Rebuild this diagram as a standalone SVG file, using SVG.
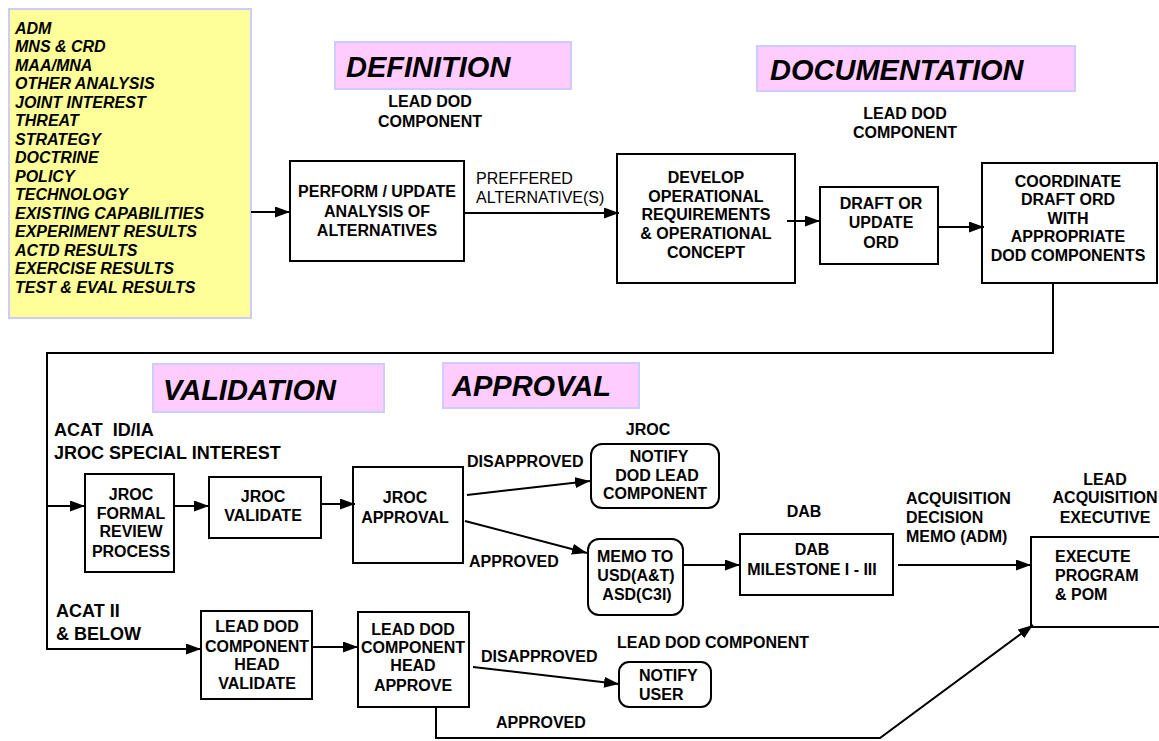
<svg xmlns="http://www.w3.org/2000/svg" width="1159" height="741" viewBox="0 0 1159 741">
<defs>
<marker id="ah" markerUnits="userSpaceOnUse" markerWidth="15" markerHeight="11" refX="15" refY="5.5" orient="auto">
<path d="M0,0 L15,5.5 L0,11 z" fill="#000"/>
</marker>
<style>
.box{fill:#fff;stroke:#000;stroke-width:2}
.phase{fill:#ffccff;stroke:#ccccff;stroke-width:2}
.ph{font-family:"Liberation Sans",Arial,sans-serif;font-weight:bold;font-style:italic;font-size:29px;fill:#000}
.t{font-family:"Liberation Sans",Arial,sans-serif;font-weight:bold;font-size:16px;fill:#000}
.c{text-anchor:middle}
.n{font-weight:normal}
.big{font-size:18px;white-space:pre}
.list{font-family:"Liberation Sans",Arial,sans-serif;font-weight:bold;font-style:italic;font-size:16px;fill:#000}
.ln{fill:none;stroke:#000;stroke-width:2}
.ar{fill:none;stroke:#000;stroke-width:2;marker-end:url(#ah)}
</style>
</defs>
<rect width="1159" height="741" fill="#fff"/>

<g id="inputs">
<rect x="9" y="9" width="242" height="309" fill="#ffff99" stroke="#ccccff" stroke-width="2"/>
<text class="list" x="15" y="34">
<tspan x="15">ADM</tspan>
<tspan x="15" dy="18.48">MNS &amp; CRD</tspan>
<tspan x="15" dy="18.48">MAA/MNA</tspan>
<tspan x="15" dy="18.48">OTHER ANALYSIS</tspan>
<tspan x="15" dy="18.48">JOINT INTEREST</tspan>
<tspan x="15" dy="18.48">THREAT</tspan>
<tspan x="15" dy="18.48">STRATEGY</tspan>
<tspan x="15" dy="18.48">DOCTRINE</tspan>
<tspan x="15" dy="18.48">POLICY</tspan>
<tspan x="15" dy="18.48">TECHNOLOGY</tspan>
<tspan x="15" dy="18.48">EXISTING CAPABILITIES</tspan>
<tspan x="15" dy="18.48">EXPERIMENT RESULTS</tspan>
<tspan x="15" dy="18.48">ACTD RESULTS</tspan>
<tspan x="15" dy="18.48">EXERCISE RESULTS</tspan>
<tspan x="15" dy="18.48">TEST &amp; EVAL RESULTS</tspan>
</text>
</g>

<g id="phase-definition">
<rect class="phase" x="335" y="42" width="236" height="47"/>
<text class="ph" x="346" y="77">DEFINITION</text>
<text class="t c" x="430" y="107">LEAD DOD</text>
<text class="t c" x="430" y="127">COMPONENT</text>
</g>

<g id="phase-documentation">
<rect class="phase" x="757" y="46" width="318" height="45"/>
<text class="ph" x="770" y="80">DOCUMENTATION</text>
<text class="t c" x="905" y="119">LEAD DOD</text>
<text class="t c" x="905" y="138">COMPONENT</text>
</g>

<g id="phase-validation">
<rect class="phase" x="153" y="364" width="231" height="48"/>
<text class="ph" x="163" y="400">VALIDATION</text>
</g>

<g id="phase-approval">
<rect class="phase" x="443" y="363" width="196" height="45"/>
<text class="ph" x="452" y="396">APPROVAL</text>
</g>

<g id="perform-aoa">
<rect class="box" x="290" y="161" width="174" height="100"/>
<text class="t c" x="377" y="197">PERFORM / UPDATE</text>
<text class="t c" x="377" y="217">ANALYSIS OF</text>
<text class="t c" x="377" y="236">ALTERNATIVES</text>
</g>

<g id="develop-or">
<rect class="box" x="617" y="154" width="178" height="129"/>
<text class="t c" x="706" y="183">DEVELOP</text>
<text class="t c" x="706" y="202">OPERATIONAL</text>
<text class="t c" x="706" y="220">REQUIREMENTS</text>
<text class="t c" x="706" y="239">&amp; OPERATIONAL</text>
<text class="t c" x="706" y="258">CONCEPT</text>
</g>

<g id="draft-ord">
<rect class="box" x="820" y="187" width="118" height="77"/>
<text class="t c" x="881" y="209">DRAFT OR</text>
<text class="t c" x="881" y="228">UPDATE</text>
<text class="t c" x="881" y="248">ORD</text>
</g>

<g id="coordinate-ord">
<rect class="box" x="982" y="163" width="175" height="120"/>
<text class="t c" x="1068" y="187">COORDINATE</text>
<text class="t c" x="1068" y="205">DRAFT ORD</text>
<text class="t c" x="1068" y="224">WITH</text>
<text class="t c" x="1068" y="242">APPROPRIATE</text>
<text class="t c" x="1068" y="261">DOD COMPONENTS</text>
</g>

<g id="acat-labels">
<text class="t big" x="54" y="436" xml:space="preserve">ACAT  ID/IA</text>
<text class="t big" x="54" y="459">JROC SPECIAL INTEREST</text>
<text class="t big" x="56" y="617">ACAT II</text>
<text class="t big" x="56" y="640">&amp; BELOW</text>
</g>

<g id="jroc-review">
<rect class="box" x="85" y="474" width="89" height="98"/>
<text class="t c" x="131" y="500">JROC</text>
<text class="t c" x="131" y="519">FORMAL</text>
<text class="t c" x="131" y="537">REVIEW</text>
<text class="t c" x="131" y="557">PROCESS</text>
</g>

<g id="jroc-validate">
<rect class="box" x="209" y="477" width="112" height="61"/>
<text class="t c" x="263" y="502">JROC</text>
<text class="t c" x="263" y="521">VALIDATE</text>
</g>

<g id="jroc-approval">
<rect class="box" x="353" y="467" width="110" height="96"/>
<text class="t c" x="405" y="503">JROC</text>
<text class="t c" x="405" y="523">APPROVAL</text>
</g>

<g id="notify-dod-lead">
<text class="t c" x="648" y="435">JROC</text>
<rect class="box" x="591" y="444" width="128" height="64" rx="11"/>
<text class="t c" x="659" y="462">NOTIFY</text>
<text class="t c" x="657" y="481">DOD LEAD</text>
<text class="t c" x="655" y="499">COMPONENT</text>
</g>

<g id="memo">
<rect class="box" x="588" y="539" width="95" height="76" rx="11"/>
<text class="t c" x="635" y="562">MEMO TO</text>
<text class="t c" x="636" y="581">USD(A&amp;T)</text>
<text class="t c" x="637" y="600">ASD(C3I)</text>
</g>

<g id="dab">
<text class="t c" x="804" y="517">DAB</text>
<rect class="box" x="740" y="534" width="153" height="61"/>
<text class="t c" x="812" y="555">DAB</text>
<text class="t c" x="812" y="575">MILESTONE I - III</text>
</g>

<g id="execute">
<text class="t c" x="1105" y="485">LEAD</text>
<text class="t c" x="1105" y="503">ACQUISITION</text>
<text class="t c" x="1105" y="523">EXECUTIVE</text>
<rect class="box" x="1031" y="537" width="140" height="90"/>
<text class="t" x="1055" y="562">EXECUTE</text>
<text class="t" x="1055" y="581">PROGRAM</text>
<text class="t" x="1055" y="600">&amp; POM</text>
</g>

<g id="lead-validate">
<rect class="box" x="201" y="611" width="111" height="88"/>
<text class="t c" x="257" y="632">LEAD DOD</text>
<text class="t c" x="257" y="652">COMPONENT</text>
<text class="t c" x="257" y="670">HEAD</text>
<text class="t c" x="257" y="689">VALIDATE</text>
</g>

<g id="lead-approve">
<rect class="box" x="358" y="612" width="111" height="95"/>
<text class="t c" x="413" y="635">LEAD DOD</text>
<text class="t c" x="413" y="653">COMPONENT</text>
<text class="t c" x="413" y="671">HEAD</text>
<text class="t c" x="413" y="691">APPROVE</text>
</g>

<g id="notify-user">
<text class="t" x="617" y="648">LEAD DOD COMPONENT</text>
<rect class="box" x="619" y="662" width="92" height="45" rx="10"/>
<text class="t" x="639" y="681">NOTIFY</text>
<text class="t" x="639" y="700">USER</text>
</g>

<g id="connectors">
<line class="ar" x1="251" y1="212" x2="290" y2="212"/>
<line class="ar" x1="464" y1="213" x2="619" y2="213"/>
<text class="t n" x="476" y="184">PREFFERED</text>
<text class="t n" x="476" y="203">ALTERNATIVE(S)</text>
<line class="ar" x1="787" y1="221" x2="820" y2="221"/>
<line class="ar" x1="938" y1="227" x2="984" y2="227"/>
<polyline class="ln" points="1053,283 1053,353 47,353 47,649"/>
<line class="ar" x1="47" y1="506" x2="85" y2="506"/>
<line class="ar" x1="174" y1="506" x2="209" y2="506"/>
<line class="ar" x1="321" y1="504" x2="355" y2="504"/>
<line class="ar" x1="467" y1="495" x2="590" y2="481"/>
<text class="t" x="467" y="467">DISAPPROVED</text>
<line class="ar" x1="465" y1="521" x2="587" y2="553"/>
<text class="t" x="469" y="567">APPROVED</text>
<line class="ar" x1="683" y1="565" x2="740" y2="565"/>
<line class="ar" x1="898" y1="565" x2="1031" y2="565"/>
<text class="t" x="906" y="504">ACQUISITION</text>
<text class="t" x="906" y="523">DECISION</text>
<text class="t" x="906" y="542">MEMO (ADM)</text>
<line class="ar" x1="46" y1="649" x2="201" y2="649"/>
<line class="ar" x1="312" y1="647" x2="358" y2="647"/>
<line class="ar" x1="473" y1="667" x2="619" y2="684"/>
<text class="t" x="481" y="662">DISAPPROVED</text>
<polyline class="ar" points="436,707 436,738 880,738 1033,625"/>
<text class="t" x="496" y="728">APPROVED</text>
</g>
</svg>
